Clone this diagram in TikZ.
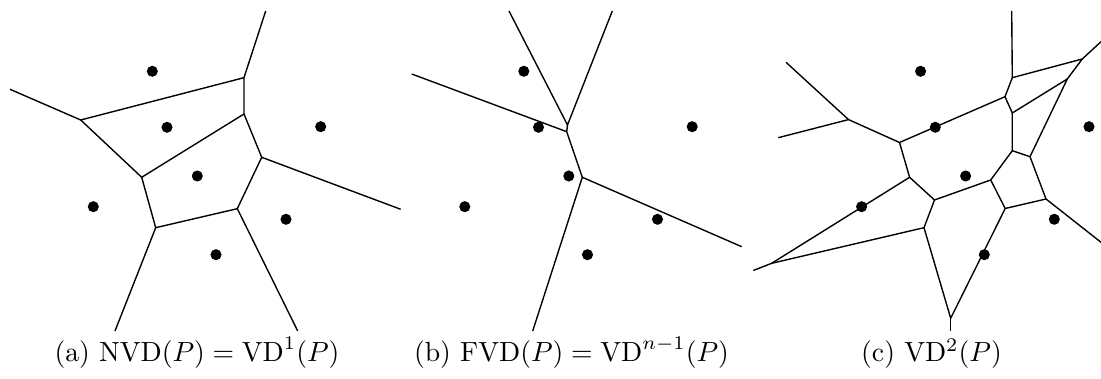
\documentclass[tikz,border=0pt]{standalone}
\usepackage{amsmath}
\usepackage{amssymb}
\usetikzlibrary{positioning}

\tikzset{site/.style={circle,fill,inner sep=0pt,minimum size=4pt}}

\begin{document}
\begin{tikzpicture}[x=0.361pt,y=-0.361pt,line width=0.5pt]
   \useasboundingbox (0,0) rectangle (1101,379);
   % (a) nearest point diagram
   \begin{scope}
     \foreach \n/\x/\y in {1/152.3/71.3,2/167/127.3,3/320.7/126.7,4/197.3/176,5/93.3/206.7,6/286/219.3,7/216/254.7}
       \node[site] (a\n) at (\x,\y) {};
     \coordinate (aA) at (244,77.7); \coordinate (aA') at (265.7,11);
     \coordinate (aB) at (244,114);
     \coordinate (aC) at (80.7,120); \coordinate (aC') at (10,89.3);
     \coordinate (aD) at (141.7,177.3);
     \coordinate (aE) at (261.7,157.3); \coordinate (aE') at (400.7,209.3);
     \coordinate (aF) at (237.3,208.7); \coordinate (aF') at (297.7,331);
     \coordinate (aG) at (155.7,227.7); \coordinate (aG') at (115,331);
     \draw (aA') -- (aA) -- (aB) -- (aE) -- (aE');
     \draw (aC') -- (aC) -- (aA);
     \draw (aC) -- (aD) -- (aG) -- (aF) -- (aE);
     \draw (aD) -- (aB);
     \draw (aG) -- (aG');
     \draw (aF) -- (aF');
   \end{scope}
   % (b) farthest point diagram
   \begin{scope}[xshift=371.5*0.361pt]
     \foreach \n/\x/\y in {1/152.3/71.3,2/167/127.3,3/320.7/126.7,4/197.3/176,5/93.3/206.7,6/286/219.3,7/216/254.7}
       \node[site] (b\n) at (\x,\y) {};
     \coordinate (bA) at (196,125);
     \coordinate (bB) at (195.2,131.7);
     \coordinate (bC) at (210.8,177.3);
     \coordinate (bA1) at (137.5,11); \coordinate (bA2) at (240.8,11);
     \coordinate (bB') at (40.2,74);
     \coordinate (bC1) at (161.2,331); \coordinate (bC2) at (370.2,246.7);
     \draw (bA1) -- (bA) -- (bA2);
     \draw (bA) -- (bB) -- (bC);
     \draw (bB') -- (bB);
     \draw (bC1) -- (bC) -- (bC2);
   \end{scope}
   % (c) second order diagram
   \begin{scope}[xshift=768.3*0.361pt]
     \foreach \n/\x/\y in {1/152.3/71.3,2/167/127.3,3/320.7/126.7,4/197.3/176,5/93.3/206.7,6/286/219.3,7/216/254.7}
       \node[site] (c\n) at (\x,\y) {};
     \coordinate (c1') at (243.4,11);
     \coordinate (cv2) at (244,77.7);
     \coordinate (cv3) at (314,59); \coordinate (cv3') at (332.7,41.7);
     \coordinate (cv4) at (299,79);
     \coordinate (cv5) at (236.7,96.7);
     \coordinate (cv6) at (244,113);
     \coordinate (cv7) at (244,150.7);
     \coordinate (cv8) at (261.7,156.7);
     \coordinate (cv9) at (277.7,199); \coordinate (cv9') at (332.7,242.3);
     \coordinate (cv11) at (236.9,208.5);
     \coordinate (cv12) at (222.4,180);
     \coordinate (cv13) at (166.2,200);
     \coordinate (cv14) at (141.3,177.3);
     \coordinate (cv15) at (131.2,142.5);
     \coordinate (cv16) at (80.2,119.6);
     \coordinate (cv16a) at (17.7,62.3); \coordinate (cv16b) at (10,137.7);
     \coordinate (cv19) at (155.7,227.7);
     \coordinate (cv20) at (3.4,263.3); \coordinate (cv20') at (-15,270.5);
     \coordinate (cv22) at (182.4,318.3); \coordinate (cv22') at (182.4,331.3);
     \draw (c1') -- (cv2) -- (cv3) -- (cv3');
     \draw (cv2) -- (cv5) -- (cv6) -- (cv4) -- (cv3);
     \draw (cv4) -- (cv8) -- (cv9) -- (cv9');
     \draw (cv6) -- (cv7) -- (cv8);
     \draw (cv7) -- (cv12) -- (cv11) -- (cv9);
     \draw (cv5) -- (cv15) -- (cv16) -- (cv16a);
     \draw (cv16) -- (cv16b);
     \draw (cv15) -- (cv14) -- (cv13) -- (cv12);
     \draw (cv14) -- (cv20) -- (cv20');
     \draw (cv20) -- (cv19) -- (cv13);
     \draw (cv19) -- (cv22) -- (cv11);
     \draw (cv22) -- (cv22');
   \end{scope}
   % captions
   \node[anchor=base] (capa) at (197,362) {(a) NVD\((P) = \mathrm{VD}^1(P)\)};
   \node[anchor=base] (capb) at (571.5,362) {(b) FVD\((P) = \mathrm{VD}^{n-1}(P)\)};
   \node[anchor=base] (capc) at (931.5,362) {(c) VD\(^2(P)\)};
\end{tikzpicture}
\end{document}
